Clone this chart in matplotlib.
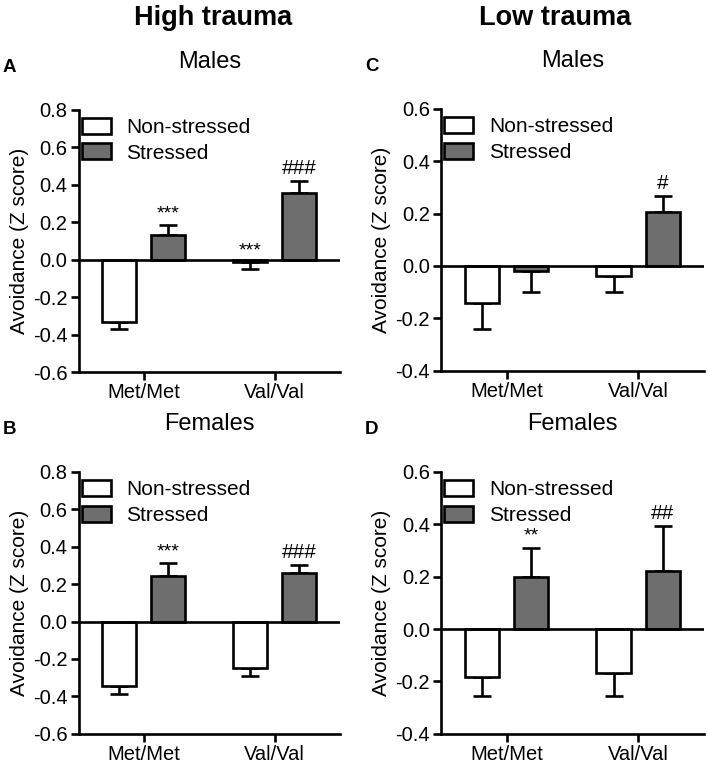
import numpy as np
import matplotlib
matplotlib.use("Agg")
import matplotlib.pyplot as plt
from matplotlib.patches import Patch

plt.rcParams["font.family"] = ["Liberation Sans", "DejaVu Sans"]

genotypes = ["Met/Met", "Val/Val"]
groups = ["Non-stressed", "Stressed"]

# means / SEM per panel: [Met/Met, Val/Val]
a_ns = [-0.33, -0.014]; a_ns_err = [0.04, 0.036]
a_s = [0.132, 0.354];   a_s_err = [0.052, 0.064]
b_ns = [-0.343, -0.25]; b_ns_err = [0.046, 0.041]
b_s = [0.241, 0.262];   b_s_err = [0.071, 0.042]
c_ns = [-0.143, -0.038]; c_ns_err = [0.096, 0.06]
c_s = [-0.019, 0.206];   c_s_err = [0.079, 0.062]
d_ns = [-0.183, -0.168]; d_ns_err = [0.072, 0.086]
d_s = [0.197, 0.221];    d_s_err = [0.113, 0.173]

# significance marks: (genotype index, group index, text)
a_marks = [(0, 1, "***"), (1, 0, "***"), (1, 1, "###")]
b_marks = [(0, 1, "***"), (1, 1, "###")]
c_marks = [(1, 1, "#")]
d_marks = [(0, 1, "**"), (1, 1, "##")]

GRAY = "#6e6e6e"
W = 0.26
OFF = 0.187
LW = 1.9


def draw_panel(ax, ns, ns_err, s, s_err, marks, ylim, yticks, letter, title):
    x = np.arange(len(genotypes))
    vals = [ns, s]
    errs = [ns_err, s_err]
    cols = ["white", GRAY]
    for g in range(2):
        xs = x + (g * 2 - 1) * OFF
        v = np.array(vals[g]); e = np.array(errs[g])
        ax.bar(xs, v, W, color=cols[g], edgecolor="black", linewidth=LW, zorder=3)
        lo = np.where(v < 0, e, 0)
        hi = np.where(v >= 0, e, 0)
        ax.errorbar(xs, v, yerr=[lo, hi], fmt="none", ecolor="black",
                    elinewidth=LW, capsize=6.5, capthick=LW, zorder=2)
    for gi, grp, txt in marks:
        v = vals[grp][gi]; e = errs[grp][gi]
        top = v + e if v >= 0 else v
        ax.text(gi + (grp * 2 - 1) * OFF, top + 0.012 * (ylim[1] - ylim[0]), txt,
                ha="center", va="bottom", fontsize=15 if "#" in txt else 14)
    ax.axhline(0, color="black", lw=LW, zorder=4)
    ax.set_xlim(-0.5, 1.5)
    ax.set_ylim(*ylim)
    ax.set_yticks(yticks)
    ax.set_yticklabels([f"{t:.1f}" for t in yticks], fontsize=14.5)
    ax.set_xticks(x)
    ax.set_xticklabels(genotypes, fontsize=14.5)
    for sp in ["top", "right"]:
        ax.spines[sp].set_visible(False)
    for sp in ["left", "bottom"]:
        ax.spines[sp].set_linewidth(LW)
    ax.tick_params(width=LW, length=6, pad=2)
    ax.set_ylabel("Avoidance (Z score)", fontsize=15, labelpad=3)
    ax.set_title(title, fontsize=17, pad=30)
    ax.text(-0.29, 1.16, letter, transform=ax.transAxes, fontsize=13.5,
            fontweight="bold", va="center")
    handles = [Patch(facecolor=c, edgecolor="black", linewidth=LW) for c in cols]
    ax.legend(handles, groups, loc="upper left", bbox_to_anchor=(0.0, 0.98),
              frameon=False, fontsize=15, handlelength=1.4, handleheight=0.8,
              labelspacing=0.3, handletextpad=0.75, borderaxespad=0.0,
              borderpad=0.15)


fig = plt.figure(figsize=(7.08, 7.66), dpi=100)
axA = fig.add_axes([0.111, 0.514, 0.369, 0.343])
axC = fig.add_axes([0.623, 0.516, 0.371, 0.342])
axB = fig.add_axes([0.111, 0.042, 0.369, 0.342])
axD = fig.add_axes([0.623, 0.042, 0.371, 0.342])

hi_ticks = [-0.6, -0.4, -0.2, 0.0, 0.2, 0.4, 0.6, 0.8]
lo_ticks = [-0.4, -0.2, 0.0, 0.2, 0.4, 0.6]
draw_panel(axA, a_ns, a_ns_err, a_s, a_s_err, a_marks, (-0.6, 0.8), hi_ticks, "A", "Males")
draw_panel(axB, b_ns, b_ns_err, b_s, b_s_err, b_marks, (-0.6, 0.8), hi_ticks, "B", "Females")
draw_panel(axC, c_ns, c_ns_err, c_s, c_s_err, c_marks, (-0.4, 0.6), lo_ticks, "C", "Males")
draw_panel(axD, d_ns, d_ns_err, d_s, d_s_err, d_marks, (-0.4, 0.6), lo_ticks, "D", "Females")

fig.text(213 / 708, 1 - 18 / 766, "High trauma", ha="center", va="center",
         fontsize=19.5, fontweight="bold")
fig.text(555 / 708, 1 - 18 / 766, "Low trauma", ha="center", va="center",
         fontsize=19.5, fontweight="bold")

fig.savefig("out.png", dpi=100)
